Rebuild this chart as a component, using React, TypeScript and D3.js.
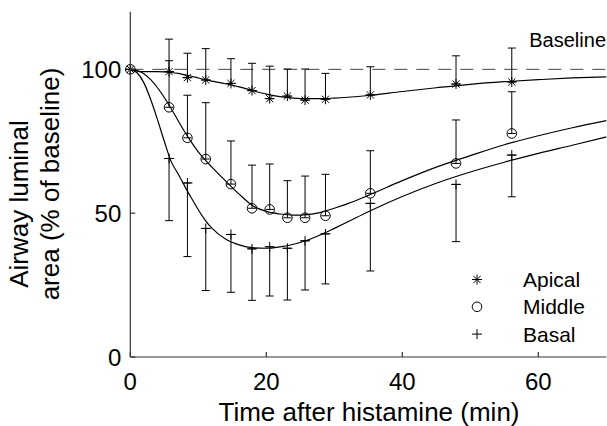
import React from "react";
import * as d3 from "d3";

// sampling times (min) of the measurements
const times = [0, 5.7, 8.4, 11.1, 14.8, 17.9, 20.5, 23.1, 25.7, 28.7, 35.3, 47.9, 56.1];

// means and one-sided error (apical & middle drawn upward, basal downward)
const apicalMean = [100, 99.2, 97.1, 96.3, 95.1, 92.6, 89.8, 90.7, 89.3, 89.6, 91.1, 94.9, 95.6];
const apicalErr = [0, 11.3, 8.5, 10.9, 8.6, 9.5, 11.3, 9.4, 10.8, 9.0, 9.8, 9.8, 11.8];
const middleMean = [100, 86.8, 76.2, 68.8, 60.1, 51.7, 51.3, 48.4, 48.4, 49.1, 56.9, 67.3, 77.7];
const middleErr = [0, 16.2, 14.8, 19.6, 15.0, 15.0, 15.8, 12.9, 14.5, 14.4, 14.8, 15.1, 14.5];
const basalMean = [100, 69.0, 60.5, 44.7, 42.6, 37.6, 38.3, 37.8, 40.4, 42.8, 53.4, 60.0, 70.2];
const basalErr = [0, 21.6, 25.6, 21.6, 20.1, 17.9, 17.1, 18.0, 17.1, 17.4, 23.5, 19.9, 14.5];

// fitted curves
const fitTimes = [0, 1, 2, 3, 4, 5, 6, 7, 8, 9, 10, 11, 12, 14, 16, 18, 20, 22, 24, 26, 28, 30, 32, 35, 40, 45, 50, 55, 60, 65, 70];
const apicalFit = [100, 99.4, 99.2, 99.2, 99.2, 99.1, 98.9, 98.6, 98.1, 97.6, 97.0, 96.4, 95.9, 95.0, 93.9, 92.6, 91.4, 90.5, 90.0, 89.8, 89.8, 90.0, 90.3, 90.9, 92.3, 93.6, 94.8, 95.7, 96.4, 97.0, 97.4];
const middleFit = [100, 99.6, 98.5, 96.4, 93.6, 90.2, 86.4, 82.3, 78.3, 74.6, 71.3, 68.5, 66.0, 61.2, 56.6, 52.6, 50.6, 49.7, 49.3, 49.5, 50.3, 51.7, 53.3, 56.2, 61.3, 66.0, 70.0, 73.8, 76.9, 79.7, 82.2];
const basalFit = [100, 98.8, 95.3, 89.5, 82.5, 75.0, 68.0, 63.8, 59.4, 55.2, 51.2, 47.6, 44.8, 41.0, 39.0, 38.0, 37.8, 38.3, 39.2, 40.6, 42.5, 44.7, 47.0, 50.5, 55.8, 60.4, 64.3, 67.7, 70.8, 73.6, 76.5];

const xTicks = [0, 20, 40, 60];
const yTicks = [0, 50, 100];
const baselineValue = 100;
const legendNames = ["Apical", "Middle", "Basal"];

const W = 607;
const H = 426;
const FONT = "'Liberation Sans', Arial, Helvetica, sans-serif";
const INK = "#000";
const AXIS = "#333";

const x = d3.scaleLinear().domain([0, 70]).range([130.3, 606.3]);
const y = d3.scaleLinear().domain([0, 120]).range([357, 11.8]);

const line = d3
  .line<number>()
  .x((_, i) => x(fitTimes[i]))
  .y((d) => y(d))
  .curve(d3.curveMonotoneX);

const starPath = "M-5,0H5M0,-5V5M-3.6,-3.6L3.6,3.6M-3.6,3.6L3.6,-3.6";
const plusPath = "M-5,0H5M0,-5V5";

const Marker = ({ kind, cx, cy }: { kind: string; cx: number; cy: number }) => {
  if (kind === "circle")
    return <circle cx={cx} cy={cy} r={4.8} fill="none" stroke={INK} strokeWidth={1} />;
  return (
    <path
      d={kind === "star" ? starPath : plusPath}
      transform={`translate(${cx},${cy})`}
      fill="none"
      stroke={INK}
      strokeWidth={1}
    />
  );
};

// vertical bar + caps; dir = 1 upward, -1 downward
const ErrBars = ({ mean, err, dir }: { mean: number[]; err: number[]; dir: number }) => (
  <g stroke={INK} strokeWidth={1}>
    {times.map((t, i) => {
      if (err[i] === 0) return null;
      const cx = x(t);
      const y0 = y(mean[i]);
      const y1 = y(mean[i] + dir * err[i]);
      return (
        <g key={i}>
          <line x1={cx} x2={cx} y1={y0} y2={y1} />
          <line x1={cx - 4} x2={cx + 4} y1={y1} y2={y1} />
          <line x1={cx - 4} x2={cx + 4} y1={y0} y2={y0} />
        </g>
      );
    })}
  </g>
);

const series = [
  { mean: apicalMean, err: apicalErr, dir: 1, fit: apicalFit, kind: "star" },
  { mean: middleMean, err: middleErr, dir: 1, fit: middleFit, kind: "circle" },
  { mean: basalMean, err: basalErr, dir: -1, fit: basalFit, kind: "plus" },
];

export default function App() {
  return (
    <div style={{ position: "absolute", left: 0, top: 0 }}>
      <svg width={W} height={H} style={{ display: "block", background: "#fff" }} fontFamily={FONT}>
        {/* baseline */}
        <line
          x1={x(0)}
          x2={x(70)}
          y1={y(baselineValue)}
          y2={y(baselineValue)}
          stroke="#444"
          strokeWidth={1}
          strokeDasharray="13,9"
        />
        <text x={606} y={47} fontSize={20} textAnchor="end" fill={INK}>
          Baseline
        </text>

        {/* fits */}
        {series.map((s, k) => (
          <path key={k} d={line(s.fit) || ""} fill="none" stroke={INK} strokeWidth={1.2} />
        ))}

        {/* error bars and markers */}
        {series.map((s, k) => (
          <g key={k}>
            <ErrBars mean={s.mean} err={s.err} dir={s.dir} />
            {times.map((t, i) => (
              <Marker key={i} kind={s.kind} cx={x(t)} cy={y(s.mean[i])} />
            ))}
          </g>
        ))}

        {/* axes */}
        <g stroke={AXIS} strokeWidth={1.2} fill="none">
          <line x1={x(0)} x2={x(70)} y1={y(0)} y2={y(0)} />
          <line x1={x(0)} x2={x(0)} y1={y(0)} y2={y(120)} />
          {xTicks.map((t) => (
            <line key={t} x1={x(t)} x2={x(t)} y1={y(0)} y2={y(0) - 5} />
          ))}
          {yTicks.map((t) => (
            <line key={t} x1={x(0)} x2={x(0) + 5} y1={y(t)} y2={y(t)} />
          ))}
        </g>
        {xTicks.map((t) => (
          <text key={t} x={x(t)} y={390} fontSize={24} textAnchor="middle" fill={INK}>
            {t}
          </text>
        ))}
        {yTicks.map((t) => (
          <text key={t} x={x(0) - 9} y={y(t)} dy="0.36em" fontSize={24} textAnchor="end" fill={INK}>
            {t}
          </text>
        ))}

        <text x={369} y={421} fontSize={26} textAnchor="middle" fill={INK}>
          Time after histamine (min)
        </text>
        <text transform="translate(28,204) rotate(-90)" fontSize={26} textAnchor="middle" fill={INK}>
          Airway luminal
        </text>
        <text transform="translate(59,184) rotate(-90)" fontSize={26} textAnchor="middle" fill={INK}>
          area (% of baseline)
        </text>

        {/* legend */}
        {series.map((s, k) => (
          <g key={k}>
            <Marker kind={s.kind} cx={477} cy={279.5 + k * 27.3} />
            <text x={523} y={287 + k * 27.3} fontSize={21} fill={INK}>
              {legendNames[k]}
            </text>
          </g>
        ))}
      </svg>
    </div>
  );
}
